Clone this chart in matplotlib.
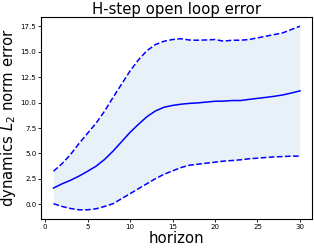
import matplotlib
matplotlib.use("Agg")
import matplotlib.pyplot as plt
import numpy as np

horizon = list(range(1, 31))
mean_err = [1.61, 2.02, 2.37, 2.78, 3.25, 3.75, 4.41, 5.23, 6.15, 7.07,
            7.87, 8.62, 9.18, 9.54, 9.72, 9.84, 9.92, 9.97, 10.05, 10.13,
            10.14, 10.20, 10.20, 10.31, 10.41, 10.51, 10.62, 10.75, 10.94, 11.15]
upper_err = [3.26, 4.00, 4.90, 5.98, 6.98, 7.97, 9.15, 10.50, 11.80, 13.10,
             14.20, 15.10, 15.70, 16.02, 16.19, 16.27, 16.14, 16.12, 16.15, 16.19,
             16.03, 16.12, 16.12, 16.19, 16.35, 16.52, 16.68, 16.85, 17.18, 17.50]
lower_err = [0.07, -0.20, -0.40, -0.53, -0.53, -0.43, -0.20, 0.07, 0.56, 1.05,
             1.55, 2.04, 2.53, 2.96, 3.29, 3.62, 3.85, 3.95, 4.05, 4.15,
             4.25, 4.31, 4.38, 4.48, 4.54, 4.61, 4.67, 4.70, 4.74, 4.74]

fig = plt.figure(figsize=(3.14, 2.48), dpi=100)
ax = fig.add_axes([41.2/314, (248-219)/248, (312.3-41.2)/314, (219-17)/248])

ax.fill_between(horizon, lower_err, upper_err, color='C0', alpha=0.1, linewidth=0)
ax.plot(horizon, mean_err, color='b', lw=1.1)
ax.plot(horizon, upper_err, color='b', lw=1.1, ls='--')
ax.plot(horizon, lower_err, color='b', lw=1.1, ls='--')

ax.set_title('H-step open loop error', fontsize=10.7, pad=2)
ax.set_xlabel('horizon', fontsize=10.7, labelpad=1)
ax.set_ylabel('dynamics $L_2$ norm error', fontsize=10.7, labelpad=2)
ax.set_xticks([0, 5, 10, 15, 20, 25, 30])
ax.set_yticks([0.0, 2.5, 5.0, 7.5, 10.0, 12.5, 15.0, 17.5])
ax.tick_params(labelsize=5.1, length=2, width=0.6, pad=1.5)
for s in ax.spines.values():
    s.set_linewidth(0.8)

fig.savefig('out.png', dpi=100)
